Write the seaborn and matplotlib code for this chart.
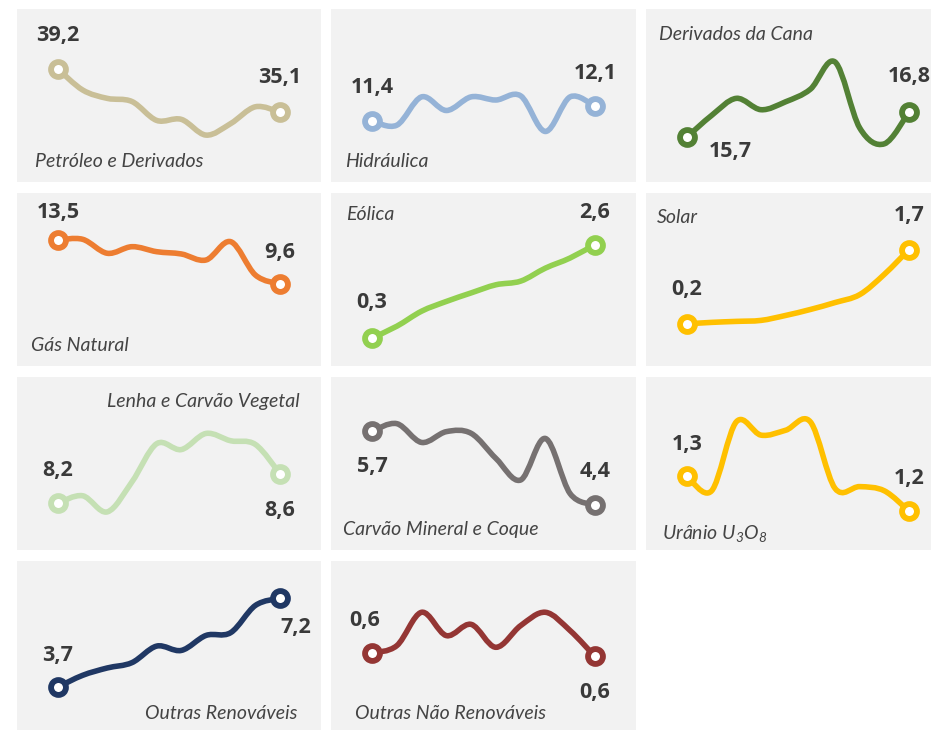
import matplotlib
matplotlib.use('Agg')
import matplotlib.pyplot as plt
from matplotlib.path import Path
from matplotlib.patches import PathPatch
import seaborn as sns
import pandas as pd

sns.set_style('white', {'axes.facecolor': '#f2f2f2'})
plt.rcParams['font.family'] = ['Open Sans', 'DejaVu Sans']
plt.rcParams['mathtext.fontset'] = 'custom'
plt.rcParams['mathtext.rm'] = 'Lato:italic'
plt.rcParams['mathtext.it'] = 'Lato:italic'

# participacao na oferta interna de energia (%), 10 anos
anos = list(range(2014, 2024))
petroleo = [39.2, 37.2, 36.4, 36.1, 34.3, 34.4, 32.9, 34.0, 35.6, 35.1]
hidraulica = [11.4, 11.2, 12.55, 11.9, 12.55, 12.4, 12.6, 10.9, 12.55, 12.1]
cana = [15.7, 16.65, 17.4, 16.9, 17.25, 17.8, 19.0, 16.1, 15.4, 16.8]
gas = [13.5, 13.56, 12.33, 12.91, 12.47, 12.27, 11.74, 13.35, 10.42, 9.6]
eolica = [0.3, 0.59, 0.96, 1.20, 1.41, 1.61, 1.70, 2.02, 2.27, 2.6]
solar = [0.2, 0.23, 0.25, 0.27, 0.37, 0.49, 0.63, 0.79, 1.20, 1.7]
lenha = [8.2, 8.30, 8.08, 8.49, 9.01, 8.93, 9.15, 9.05, 9.00, 8.6]
carvao = [5.7, 5.83, 5.50, 5.69, 5.66, 5.22, 4.84, 5.57, 4.60, 4.4]
uranio = [1.3, 1.258, 1.455, 1.417, 1.431, 1.455, 1.265, 1.27, 1.258, 1.2]
outras_ren = [3.7, 4.16, 4.45, 4.66, 5.31, 5.14, 5.73, 5.84, 6.91, 7.2]
outras_nren = [0.6, 0.618, 0.698, 0.642, 0.669, 0.614, 0.666, 0.698, 0.654, 0.592]

titulos = ['Petróleo e Derivados', 'Hidráulica', 'Derivados da Cana',
           'Gás Natural', 'Eólica', 'Solar',
           'Lenha e Carvão Vegetal', 'Carvão Mineral e Coque', 'Urânio U$_3$O$_8$',
           'Outras Renováveis', 'Outras Não Renováveis']
series = [petroleo, hidraulica, cana, gas, eolica, solar,
          lenha, carvao, uranio, outras_ren, outras_nren]
cores = ['#c9bf97', '#95b3d7', '#538135', '#ed7d31', '#92d050', '#ffc000',
         '#c5e0b4', '#767171', '#ffc000', '#203864', '#943634']

# layout: y-limits, title position (axes fraction), label offsets (pixels)
ylims = [(28.43, 44.92), (8.49, 16.74), (13.72, 21.33), (2.42, 17.63),
         (-0.39, 3.87), (-0.65, 2.84), (7.56, 9.92), (3.61, 6.65),
         (1.089, 1.583), (1.85, 8.66), (0.406, 0.821)]
tit_pos = [(0.059, 0.121, 'left'), (0.046, 0.121, 'left'), (0.043, 0.855, 'left'),
           (0.046, 0.121, 'left'), (0.049, 0.873, 'left'), (0.036, 0.861, 'left'),
           (0.931, 0.861, 'right'), (0.039, 0.121, 'left'), (0.053, 0.098, 'left'),
           (0.921, 0.121, 'right'), (0.079, 0.121, 'left')]
off_ini = [(0, 34), (0, 33), (43, -15), (0, 27), (0, 35), (0, 34),
           (0, 33), (0, -35), (0, 32), (0, 32), (-7, 33)]
off_fim = [(0, 35), (0, 33), (0, 35), (0, 32), (0, 32), (0, 34),
           (0, -37), (0, 34), (0, 33), (16, -29), (0, -36)]

col_x = [17, 331, 646]
col_w = [304, 305, 304]
row_y = [9, 193, 377, 561]
row_h = 173
W, H = 931, 730


def suave(xs, ys):
    # curva suavizada (bezier tipo catmull-rom, como linha suavizada do excel)
    pts = list(zip(xs, ys))
    verts = [pts[0]]
    codes = [Path.MOVETO]
    n = len(pts)
    for i in range(n - 1):
        p0 = pts[max(i - 1, 0)]
        p1 = pts[i]
        p2 = pts[i + 1]
        p3 = pts[min(i + 2, n - 1)]
        c1 = (p1[0] + (p2[0] - p0[0]) / 6, p1[1] + (p2[1] - p0[1]) / 6)
        c2 = (p2[0] - (p3[0] - p1[0]) / 6, p2[1] - (p3[1] - p1[1]) / 6)
        verts += [c1, c2, p2]
        codes += [Path.CURVE4] * 3
    return Path(verts, codes)


fig = plt.figure(figsize=(W / 100, H / 100), dpi=100)

for k, vals in enumerate(series):
    r, c = divmod(k, 3)
    ax = fig.add_axes([col_x[c] / W, 1 - (row_y[r] + row_h) / H,
                       col_w[c] / W, row_h / H])
    df = pd.DataFrame({'ano': anos, 'valor': vals})
    df['x'] = range(len(df))
    cor = cores[k]

    ax.add_patch(PathPatch(suave(df['x'], df['valor']), facecolor='none',
                           edgecolor=cor, lw=4.0, capstyle='round',
                           joinstyle='round', zorder=3))
    pontas = df.iloc[[0, -1]]
    sns.scatterplot(data=pontas, x='x', y='valor', s=115, color='white',
                    edgecolor=cor, linewidth=4.2, zorder=5, ax=ax, legend=False)

    for (_, row), off in zip(pontas.iterrows(), [off_ini[k], off_fim[k]]):
        ax.annotate('{:.1f}'.format(row['valor']).replace('.', ','),
                    (row['x'], row['valor']), xytext=off,
                    textcoords='offset pixels', ha='center', va='center',
                    fontsize=15.5, fontweight='bold', color='#3a3a3a', zorder=6)

    tx, ty, ha = tit_pos[k]
    ax.text(tx, ty, titulos[k], transform=ax.transAxes, ha=ha, va='center',
            fontsize=14, fontstyle='italic', fontweight='normal',
            family=['Lato', 'DejaVu Sans'], color='#444444')

    ax.set_xlim(-1.66, 10.66)
    ax.set_ylim(*ylims[k])
    ax.set_xticks([])
    ax.set_yticks([])
    ax.set_xlabel('')
    ax.set_ylabel('')
    sns.despine(ax=ax, left=True, bottom=True)

fig.savefig('out.png', dpi=100, facecolor='white')
